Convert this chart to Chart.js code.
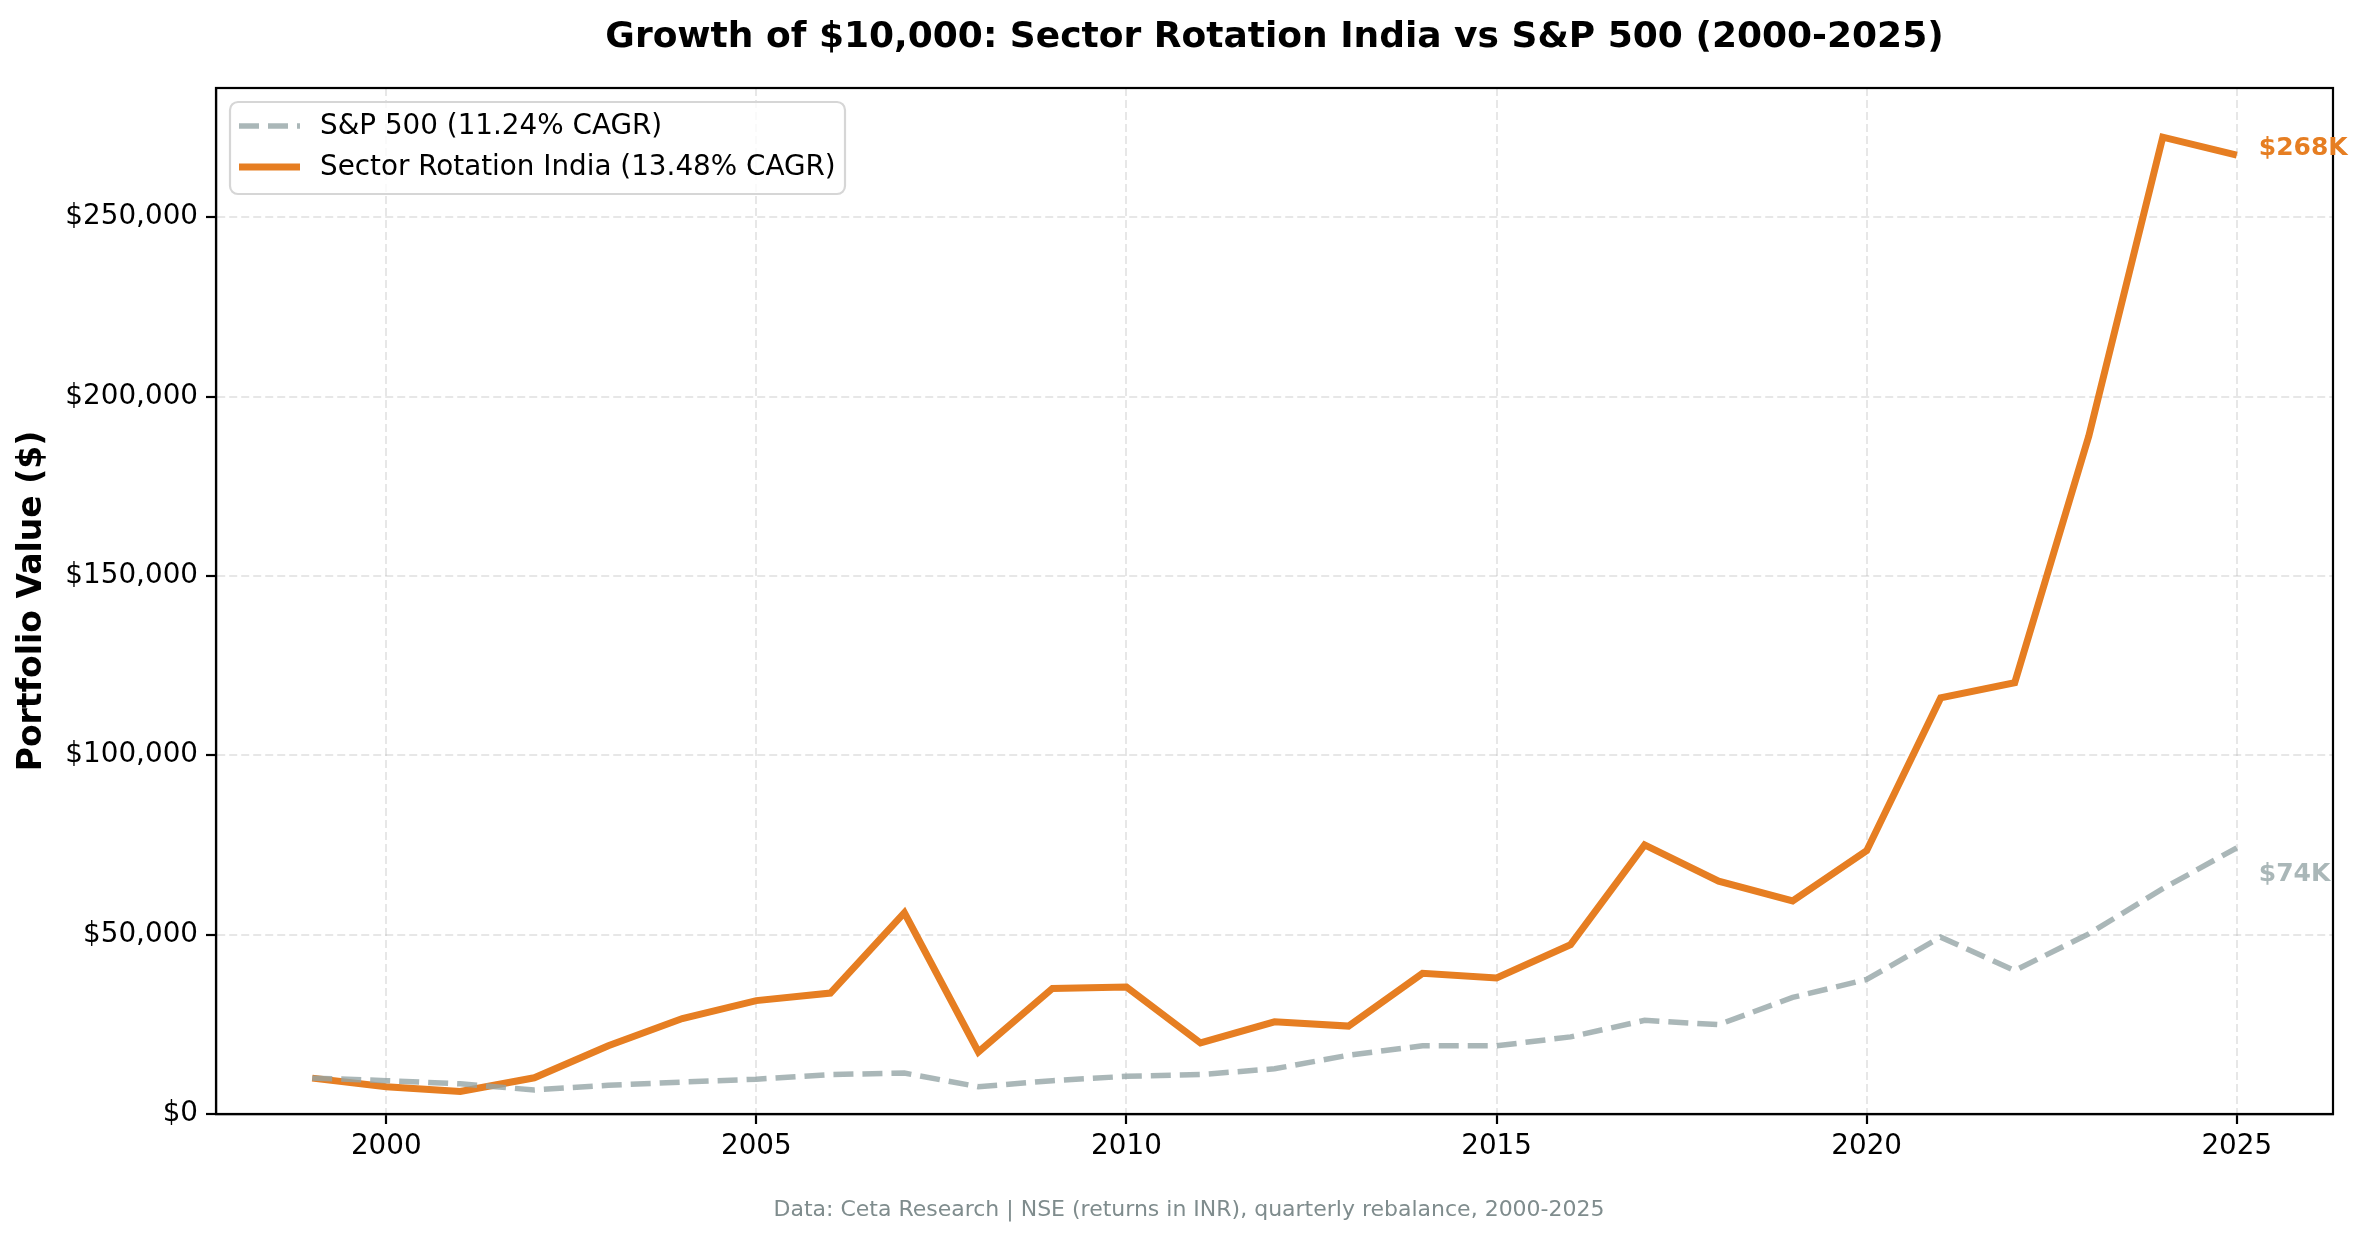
<!DOCTYPE html>
<html>
<head>
<meta charset="utf-8">
<script src="https://cdn.jsdelivr.net/npm/chart.js@4.4.1/dist/chart.umd.min.js"></script>
<style>
  html,body{margin:0;padding:0;background:#fff}
  #wrap{width:2368px;height:1239px;position:relative}
</style>
</head>
<body>
<div id="wrap"><canvas id="c"></canvas></div>
<script>
// data
const years=[1999,2000,2001,2002,2003,2004,2005,2006,2007,2008,2009,2010,2011,2012,
  2013,2014,2015,2016,2017,2018,2019,2020,2021,2022,2023,2024,2025];
const sectorIndia=[10000,7600,6300,10100,19000,26600,31600,33700,56100,17300,35000,35400,19800,25700,
  24500,39200,37900,47200,75000,64900,59400,73400,116000,120200,188900,272300,267300];
const sp500=[10000,9300,8400,6700,8000,8900,9700,11000,11400,7600,9300,10500,11000,12600,
  16400,19000,19000,21500,26100,24900,32500,37500,49300,40000,50200,62800,74200];
const xTicks=[2000,2005,2010,2015,2020,2025];
const yTicks=[0,50000,100000,150000,200000,250000];
const endLabels=['$74K','$268K'];

const ORANGE='#e67e22';
const GREY='rgba(149,165,166,0.8)';
const FONT='"DejaVu Sans", sans-serif';

const pts=arr=>arr.map((v,i)=>({x:years[i],y:v}));

const decor={
  id:'decor',
  afterDraw(chart){
    const {ctx,chartArea:{left,right,top,bottom},scales:{x,y}}=chart;
    ctx.save();
    // frame (all four spines)
    ctx.strokeStyle='#000';ctx.lineWidth=2.2;ctx.setLineDash([]);
    ctx.strokeRect(left,top,right-left,bottom-top);

    // title
    ctx.fillStyle='#000';ctx.textAlign='center';ctx.textBaseline='middle';
    ctx.font='bold 36px '+FONT;
    ctx.fillText('Growth of $10,000: Sector Rotation India vs S&P 500 (2000-2025)',(left+right)/2,38);

    // footer
    ctx.fillStyle='#7f8c8d';ctx.font='22px '+FONT;
    ctx.fillText('Data: Ceta Research | NSE (returns in INR), quarterly rebalance, 2000-2025',1189,1210);

    // end value labels
    const last=years.length-1;
    const xp=x.getPixelForValue(years[last])+22;
    ctx.textAlign='left';ctx.font='bold 25px '+FONT;
    ctx.fillStyle=ORANGE;
    ctx.fillText(endLabels[1],xp,y.getPixelForValue(sectorIndia[last])-7);
    ctx.fillStyle=GREY;
    ctx.fillText(endLabels[0],xp,y.getPixelForValue(sp500[last])+27);

    // legend box
    const lx=230,ly=102,lw=615,lh=92,r=8;
    ctx.beginPath();
    ctx.moveTo(lx+r,ly);ctx.arcTo(lx+lw,ly,lx+lw,ly+lh,r);ctx.arcTo(lx+lw,ly+lh,lx,ly+lh,r);
    ctx.arcTo(lx,ly+lh,lx,ly,r);ctx.arcTo(lx,ly,lx+lw,ly,r);ctx.closePath();
    ctx.fillStyle='rgba(255,255,255,0.8)';ctx.fill();
    ctx.strokeStyle='#d6d6d6';ctx.lineWidth=2.2;ctx.stroke();
    const rows=[126,167];
    chart.data.datasets.forEach((ds,i)=>{
      ctx.beginPath();
      ctx.strokeStyle=ds.borderColor;ctx.lineWidth=ds.borderWidth;
      ctx.setLineDash(ds.borderDash||[]);ctx.lineCap='butt';
      ctx.moveTo(239,rows[i]);ctx.lineTo(300,rows[i]);ctx.stroke();
      ctx.setLineDash([]);
      ctx.fillStyle='#000';ctx.font='27.8px '+FONT;ctx.textBaseline='middle';
      ctx.fillText(ds.label,320,rows[i]+1);
    });
    ctx.restore();
  }
};

new Chart(document.getElementById('c'),{
  type:'line',
  data:{datasets:[
    {label:'S&P 500 (11.24% CAGR)',data:pts(sp500),borderColor:GREY,borderWidth:5.5,
      borderDash:[20,9],pointRadius:0,tension:0},
    {label:'Sector Rotation India (13.48% CAGR)',data:pts(sectorIndia),borderColor:ORANGE,borderWidth:7,
      pointRadius:0,tension:0}
  ]},
  options:{
    responsive:true,maintainAspectRatio:false,animation:false,
    layout:{padding:{top:88,right:35,left:0,bottom:0}},
    plugins:{legend:{display:false},title:{display:false},tooltip:{enabled:false}},
    scales:{
      x:{type:'linear',min:1997.7,max:2026.3,
        afterBuildTicks:s=>{s.ticks=xTicks.map(v=>({value:v}));},
        afterFit:s=>{s.height=125;},
        ticks:{color:'#000',font:{family:FONT,size:27.8},padding:6,maxRotation:0,callback:v=>String(v)},
        grid:{color:'rgba(176,176,176,0.3)',lineWidth:2,tickLength:10,tickColor:'#000',tickWidth:2.2},
        border:{display:true,color:'#000',width:2.2,dash:[8,4]}
      },
      y:{min:0,max:286000,
        afterBuildTicks:s=>{s.ticks=yTicks.map(v=>({value:v}));},
        afterFit:s=>{s.width=216;},
        ticks:{color:'#000',font:{family:FONT,size:27.8},padding:8,
          callback:v=>'$'+v.toLocaleString('en-US')},
        grid:{color:'rgba(176,176,176,0.3)',lineWidth:2,tickLength:10,tickColor:'#000',tickWidth:2.2},
        border:{display:true,color:'#000',width:2.2,dash:[8,4]},
        title:{display:true,text:'Portfolio Value ($)',color:'#000',
          font:{family:FONT,size:33,weight:'bold'},padding:{top:13,bottom:0}}
      }
    }
  },
  plugins:[decor]
});
</script>
</body>
</html>
